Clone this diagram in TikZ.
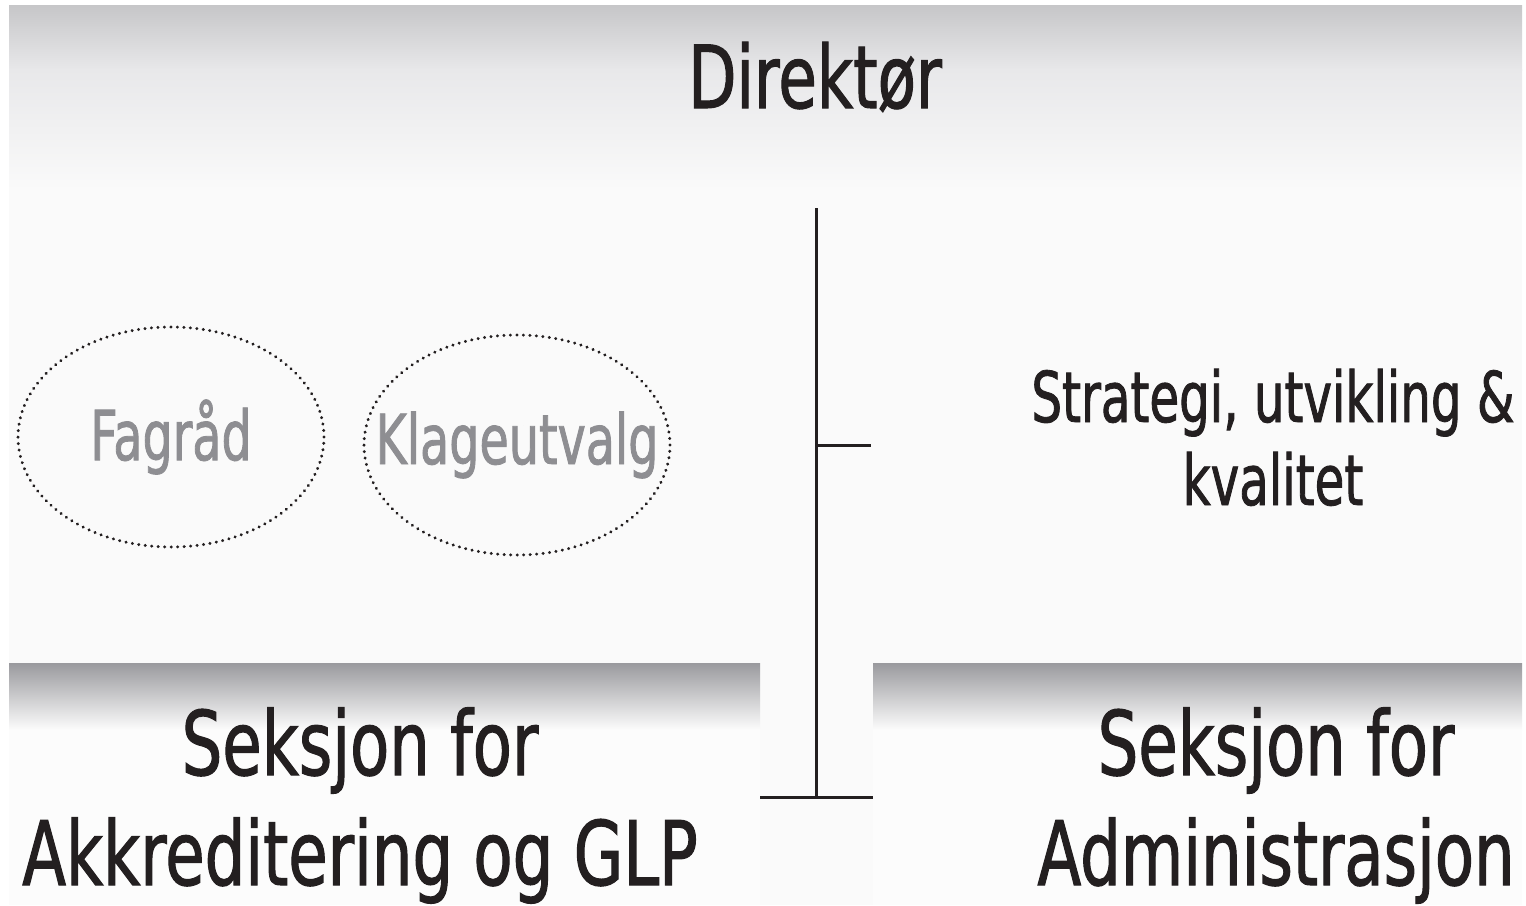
\documentclass[tikz,border=0pt]{standalone}
\usepackage{fontspec}
\usetikzlibrary{shapes.geometric}
\newfontfamily\dvs[FakeStretch=0.72,FakeBold=1.2]{DejaVu Sans}
\newfontfamily\dvsn[FakeStretch=0.69,FakeBold=1.2]{DejaVu Sans}
\definecolor{ink}{HTML}{231F20}
\definecolor{soft}{HTML}{8E8E92}
\definecolor{paper}{HTML}{FAFAFA}
\definecolor{shadetop}{HTML}{C6C6C8}
\definecolor{shademid}{HTML}{E8E8EA}
\definecolor{boxtop}{HTML}{9A9A9E}
\definecolor{boxfill}{HTML}{FCFCFC}
\tikzset{
  lbl/.style={anchor=base, inner sep=0pt, text=ink, align=center},
  unit/.style={ellipse, draw=ink, line width=3.2pt, line cap=round,
    dash pattern=on 0.1pt off 6.4pt,
    minimum width=306pt, minimum height=220pt, inner sep=0pt, text=soft,
    font=\dvsn\fontsize{69pt}{69pt}\selectfont},
  wire/.style={draw=ink, line width=3pt}
}
\begin{document}
\begin{tikzpicture}[x=1pt,y=-1pt]
\useasboundingbox (0,0) rectangle (1526,905);
\fill[white] (0,0) rectangle (1526,905);
% top area
\fill[paper] (9,5) rectangle (1522,905);
\shade[top color=shadetop, bottom color=shademid] (9,5) rectangle (1522,70);
\shade[top color=shademid, bottom color=paper] (9,69.5) rectangle (1522,190);
% bottom boxes
\fill[boxfill] (9,663) rectangle (760,905);
\shade[top color=boxtop, bottom color=boxfill] (9,663) rectangle (760,730);
\fill[boxfill] (873,663) rectangle (1522,905);
\shade[top color=boxtop, bottom color=boxfill] (873,663) rectangle (1522,730);

% texts
\node[lbl, font=\dvs\fontsize{87pt}{87pt}\selectfont] (dir) at (815,108) {Direktør};
\node[lbl, font=\dvsn\fontsize{70pt}{83pt}\selectfont] (sk) at (1273,505) {Strategi, utvikling \&\\kvalitet};
\node[lbl, font=\dvs\fontsize{89pt}{110pt}\selectfont] (akk) at (360,885) {Seksjon for\\Akkreditering og GLP};
\node[lbl, font=\dvs\fontsize{89pt}{110pt}\selectfont] (adm) at (1276,885) {Seksjon for\\Administrasjon};

% committees
\node[unit] (fag) at (171,437) {\makebox[0pt]{Fagråd}};
\node[unit] (klage) at (517,445) {\makebox[0pt]{Klageutvalg}};

% connectors
\coordinate (vtop) at (816,208);
\coordinate (vbot) at (816,797);
\coordinate (vmid) at (816,445);
\coordinate (skend) at (871,445);
\coordinate (hl) at (760,797);
\coordinate (hr) at (873,797);
\draw[wire] (vtop) -- (vbot);
\draw[wire] (vmid) -- (skend);
\draw[wire] (hl) -- (hr);
\end{tikzpicture}
\end{document}
